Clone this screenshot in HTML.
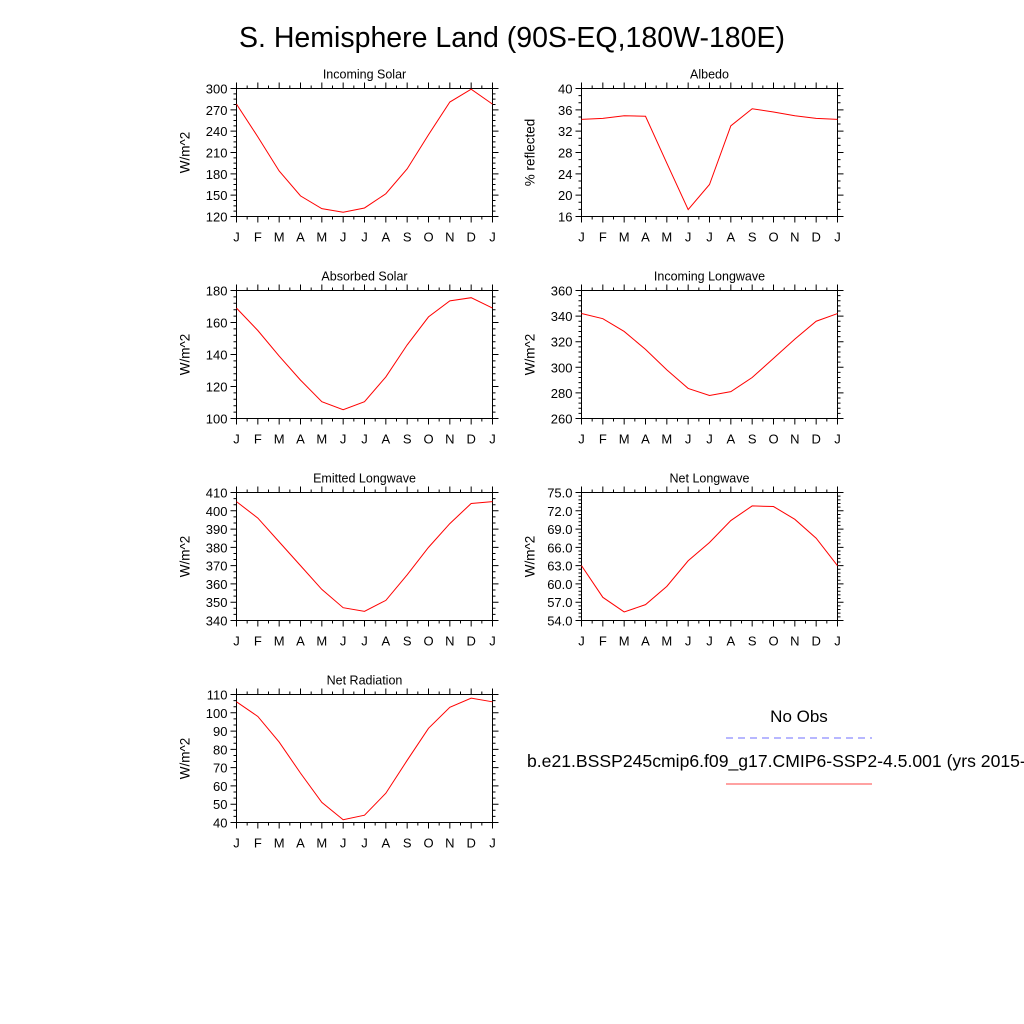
<!DOCTYPE html>
<html><head><meta charset="utf-8"><style>
html,body{margin:0;padding:0;background:#fff;}
svg{display:block;font-family:"Liberation Sans",sans-serif;}
</style></head><body>
<svg id="fig" width="1024" height="1024" viewBox="0 0 1024 1024">
<text x="512" y="47" font-size="28.5" text-anchor="middle">S. Hemisphere Land (90S-EQ,180W-180E)</text>
<g>
<text x="799" y="722" font-size="17" text-anchor="middle">No Obs</text>
<line x1="726" y1="738" x2="872" y2="738" stroke="#6f6fff" stroke-width="1" stroke-dasharray="7,5"/>
<text x="527" y="767" font-size="17.6">b.e21.BSSP245cmip6.f09_g17.CMIP6-SSP2-4.5.001 (yrs 2015-</text>
<line x1="726" y1="784" x2="872" y2="784" stroke="#f44" stroke-width="1"/>
</g>
</svg>
<script>
const months = ["J","F","M","A","M","J","J","A","S","O","N","D","J"];
const incomingSolar = [278,232,184,149,131,126,132,152,187,235,281,299,278];
const albedo = [34.2,34.4,34.9,34.8,26,17.3,22,33,36.2,35.6,34.9,34.4,34.2];
const absorbedSolar = [169,155,139,124,110.5,105.5,110.5,126,146,163.5,173.5,175.5,169];
const incomingLW = [342,338,328,314,298,283.5,278,281,292,307,322,336,342];
const emittedLW = [405,396,383,370,357,347,345,351,365,380,393,404,405];
const netLW = [63,57.8,55.4,56.6,59.6,63.8,66.8,70.4,72.8,72.7,70.6,67.5,63];
const netRad = [106,98,84,67,51,41.5,44,56,74,91.5,103,108,106];
const ticksSolar = [120,150,180,210,240,270,300];
const ticksAlbedo = [16,20,24,28,32,36,40];
const ticksAbs = [100,120,140,160,180];
const ticksILW = [260,280,300,320,340,360];
const ticksELW = [340,350,360,370,380,390,400,410];
const ticksNLW = ["54.0","57.0","60.0","63.0","66.0","69.0","72.0","75.0"];
const ticksNR = [40,50,60,70,80,90,100,110];

const panels = [
 {name:"incoming-solar",title:"Incoming Solar",ylab:"W/m^2",data:incomingSolar,ticks:ticksSolar,minor:3,x:236.5,y:88.5},
 {name:"albedo",title:"Albedo",ylab:"% reflected",data:albedo,ticks:ticksAlbedo,minor:2,x:581.5,y:88.5},
 {name:"absorbed-solar",title:"Absorbed Solar",ylab:"W/m^2",data:absorbedSolar,ticks:ticksAbs,minor:4,x:236.5,y:290.5},
 {name:"incoming-longwave",title:"Incoming Longwave",ylab:"W/m^2",data:incomingLW,ticks:ticksILW,minor:4,x:581.5,y:290.5},
 {name:"emitted-longwave",title:"Emitted Longwave",ylab:"W/m^2",data:emittedLW,ticks:ticksELW,minor:2,x:236.5,y:492.5},
 {name:"net-longwave",title:"Net Longwave",ylab:"W/m^2",data:netLW,ticks:ticksNLW,minor:4,x:581.5,y:492.5},
 {name:"net-radiation",title:"Net Radiation",ylab:"W/m^2",data:netRad,ticks:ticksNR,minor:2,x:236.5,y:694.5}
];
const W=256,H=128,NS="http://www.w3.org/2000/svg";
const svg=document.getElementById("fig");
function mk(t,a,p){const e=document.createElementNS(NS,t);for(const k in a)e.setAttribute(k,a[k]);p.appendChild(e);return e;}
panels.forEach(P=>{
 const g=mk("g",{},svg);
 
 
 const tv=P.ticks.map(Number);
 const y0=tv[0],y1=tv[tv.length-1];
 const sx=i=>P.x+i*W/12;
 const sy=v=>P.y+H-(v-y0)/(y1-y0)*H;
 const tt=mk("text",{x:P.x+W/2,y:P.y-10,"font-size":12.5,"text-anchor":"middle"},g);
 tt.textContent=P.title;
 
 
 const yl=mk("text",{x:0,y:0,"font-size":13.5,"text-anchor":"middle",transform:`translate(${P.x-47},${P.y+H/2}) rotate(-90)`},g);
 yl.textContent=P.ylab;
 
 
 let d="";
 months.forEach((m,i)=>{
  const x=sx(i);
  d+=`M${x},${P.y}v-6M${x},${P.y+H}v6`;
  if(i<12){d+=`M${x+W/24},${P.y}v-3M${x+W/24},${P.y+H}v3`;}
  const t=mk("text",{x:x,y:P.y+H+25,"font-size":13,"text-anchor":"middle"},g);
  t.textContent=m;
  
  
 });
 tv.forEach((v,i)=>{
  const y=sy(v);
  d+=`M${P.x},${y}h-6M${P.x+W},${y}h6`;
  if(i<tv.length-1){const step=(tv[i+1]-v)/(P.minor+1);for(let k=1;k<=P.minor;k++){const yy=sy(v+k*step);d+=`M${P.x},${yy}h-3M${P.x+W},${yy}h3`;}}
  const t=mk("text",{x:P.x-9,y:y+5,"font-size":13,"text-anchor":"end"},g);
  t.textContent=P.ticks[i];
  
  
 });
 const tk=mk("path",{d:d,stroke:"#000","stroke-width":1,fill:"none"},g);
 
 
 const fr=mk("rect",{x:P.x,y:P.y,width:W,height:H,fill:"none",stroke:"#000","stroke-width":1},g);
 
 
 const pts=P.data.map((v,i)=>sx(i)+","+sy(v)).join(" ");
 const ln=mk("polyline",{points:pts,fill:"none",stroke:"#f00","stroke-width":1},g);
 
 
});
</script>
</body></html>
